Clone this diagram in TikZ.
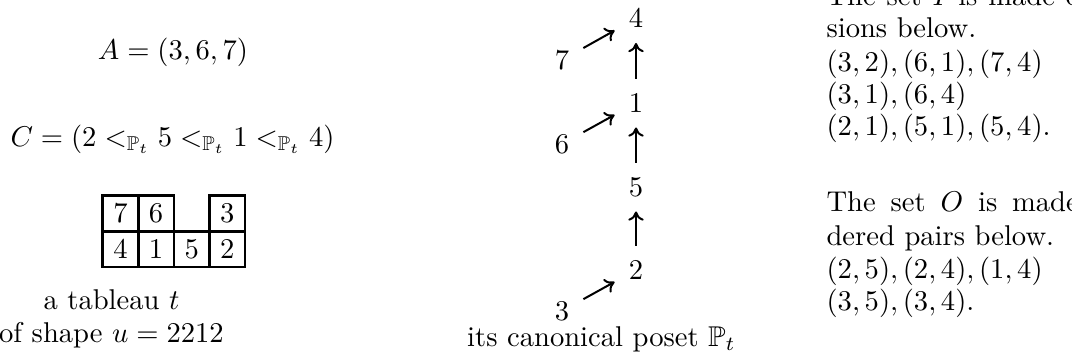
\documentclass[tikz,border=0pt]{standalone}
\usepackage{amssymb}
\usetikzlibrary{arrows.meta}
\begin{document}
\begin{tikzpicture}[x=0.3497pt,y=-0.3497pt,
  cell/.style={draw, line width=0.85pt, minimum size=12.45pt, inner sep=0pt},
  pnode/.style={circle, inner sep=0pt},
  parr/.style={-{To[length=3.2pt,width=5.4pt]}, line width=0.7pt, shorten <=4.3pt, shorten >=4.3pt},
  ctxt/.style={anchor=base, inner sep=0pt},
  ltxt/.style={anchor=base west, inner sep=0pt}]
\useasboundingbox (0,0) rectangle (1072,363);
\clip (0,0) rectangle (1072,363);
% left formulas
\node[ctxt] (A) at (173,59) {$A=(3,6,7)$};
\node[ctxt] (C) at (172.5,146) {$C=(2<_{\mathbb{P}_t}5<_{\mathbb{P}_t}1<_{\mathbb{P}_t}4)$};
% tableau
\node[cell] (t11) at (120.5,213.5) {$7$};
\node[cell] (t12) at (156.1,213.5) {$6$};
\node[cell] (t14) at (227.3,213.5) {$3$};
\node[cell] (t21) at (120.5,249.1) {$4$};
\node[cell] (t22) at (156.1,249.1) {$1$};
\node[cell] (t23) at (191.7,249.1) {$5$};
\node[cell] (t24) at (227.3,249.1) {$2$};
\node[ctxt] (cap1) at (111.5,309) {a tableau $t$};
\node[ctxt] (cap2) at (111.5,342) {of shape $u=2212$};
% poset
\node[pnode] (p4) at (636,18.5) {$4$};
\node[pnode] (p1) at (636,103) {$1$};
\node[pnode] (p5) at (636,187) {$5$};
\node[pnode] (p2) at (636,270) {$2$};
\node[pnode] (p7) at (562,60) {$7$};
\node[pnode] (p6) at (562,144) {$6$};
\node[pnode] (p3) at (562,311) {$3$};
\draw[parr] (p2) -- (p5);
\draw[parr] (p5) -- (p1);
\draw[parr] (p1) -- (p4);
\draw[parr] (p7) -- (p4);
\draw[parr] (p6) -- (p1);
\draw[parr] (p3) -- (p2);
\node[ctxt] (cap3) at (601.5,346) {its canonical poset $\mathbb{P}_t$};
% right column
\node[ltxt] (r1) at (826,5.5) {\hbox to 138pt{The set $I$ is made of the inver-}};
\node[ltxt] (r2) at (826,37.5) {sions below.};
\node[ltxt] (r3) at (826,71) {$(3,2),(6,1),(7,4)$};
\node[ltxt] (r4) at (826,103) {$(3,1),(6,4)$};
\node[ltxt] (r5) at (826,135.5) {$(2,1),(5,1),(5,4).$};
\node[ltxt] (r6) at (826,211.7) {\hbox to 138pt{The set $O$ is made of the or-}};
\node[ltxt] (r7) at (826,245) {dered pairs below.};
\node[ltxt] (r8) at (826,278) {$(2,5),(2,4),(1,4)$};
\node[ltxt] (r9) at (826,310) {$(3,5),(3,4).$};
\end{tikzpicture}
\end{document}
